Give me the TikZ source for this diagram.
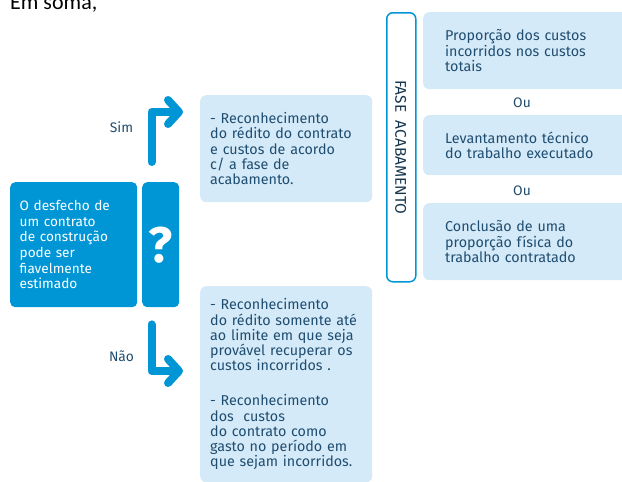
\documentclass[tikz,border=0pt]{standalone}
\usepackage{fontspec}
\setmainfont{Fira Sans}
\newfontfamily\somafont{Carlito}
\usetikzlibrary{arrows.meta}
\definecolor{azul}{HTML}{0096D6}
\definecolor{azulclaro}{HTML}{D5EAF8}
\definecolor{azulescuro}{HTML}{1F4D70}

\begin{document}
\begin{tikzpicture}[x=1pt,y=-1pt,
	caixa/.style={fill=azul,text=white,rounded corners=5pt,anchor=north west,inner sep=0pt},
	resposta/.style={fill=azulclaro,text=azulescuro,rounded corners=6pt,anchor=north west,inner sep=0pt,align=left,font=\fontsize{14.3}{15.2}\selectfont},
	metodo/.style={resposta,minimum width=210pt,text width=166pt,font=\fontsize{14.3}{15.6}\selectfont},
	rotulo/.style={text=azulescuro,font=\fontsize{13.8}{15}\selectfont},
	seta/.style={draw=azul,line width=8pt,line cap=round,line join=round,-{Straight Barb[length=11pt,width=24pt,line cap=round,line join=round]}}]
	\useasboundingbox (0,0) rectangle (622,482);
	\node[anchor=base west,inner sep=0pt,font=\somafont\fontsize{22}{24}\selectfont] (soma) at (10,9) {Em soma,};
	\node[caixa,minimum width=127pt,minimum height=125pt,text width=108pt,align=left,font=\fontsize{13.6}{15.6}\selectfont] (desfecho) at (10,182) {O desfecho de\\um contrato\\de construção\\pode ser\\fiavelmente\\estimado};
	\node[caixa,minimum width=37pt,minimum height=125pt,font=\fontsize{50}{50}\selectfont\bfseries] (q) at (142,182) {?};
	\node[resposta,minimum width=172pt,minimum height=107pt,text width=152pt] (sim) at (200,95) {- Reconhecimento\\do rédito do contrato\\e custos de acordo\\c/ a fase de\\acabamento.};
	\node[resposta,minimum width=172pt,minimum height=196pt,text width=152pt] (nao) at (200,286) {- Reconhecimento\\do rédito somente até\\ao limite em que seja\\provável recuperar os\\custos incorridos .\\[20pt]- Reconhecimento\\dos\ \ custos\\do contrato como\\gasto no período em\\que sejam incorridos.};
	\node[draw=azul,line width=1.5pt,fill=white,rounded corners=6pt,anchor=north west,minimum width=29pt,minimum height=269pt,inner sep=0pt] (fase) at (386,12) {};
	\node[rotate=-90,text=azulescuro!70!black,font=\fontsize{15.5}{16}\selectfont] (faselabel) at ([xshift=-0.5pt]fase.center) {FASE\ \ ACABAMENTO};
	\node[metodo,minimum height=77pt] (m1) at (423,12) {Proporção dos custos\\incorridos nos custos\\totais};
	\node[metodo,minimum height=60pt] (m2) at (423,115) {Levantamento técnico\\do trabalho executado};
	\node[metodo,minimum height=77pt] (m3) at (423,203) {Conclusão de uma\\proporção física do\\trabalho contratado};
	\node[rotulo] (ou1) at (522,103) {Ou};
	\node[rotulo] (ou2) at (522,191) {Ou};
	\node[rotulo] (lsim) at (121.5,127) {Sim};
	\node[rotulo] (lnao) at (121.5,356) {Não};
	\draw[seta] ([xshift=9.5pt,yshift=20pt]q.north west) |- ([xshift=-17pt,yshift=-17pt]sim.north west);
	\draw[seta] ([xshift=9.5pt,yshift=-17pt]q.south west) |- ([xshift=-17pt,yshift=-85pt]nao.north west);
\end{tikzpicture}
\end{document}
